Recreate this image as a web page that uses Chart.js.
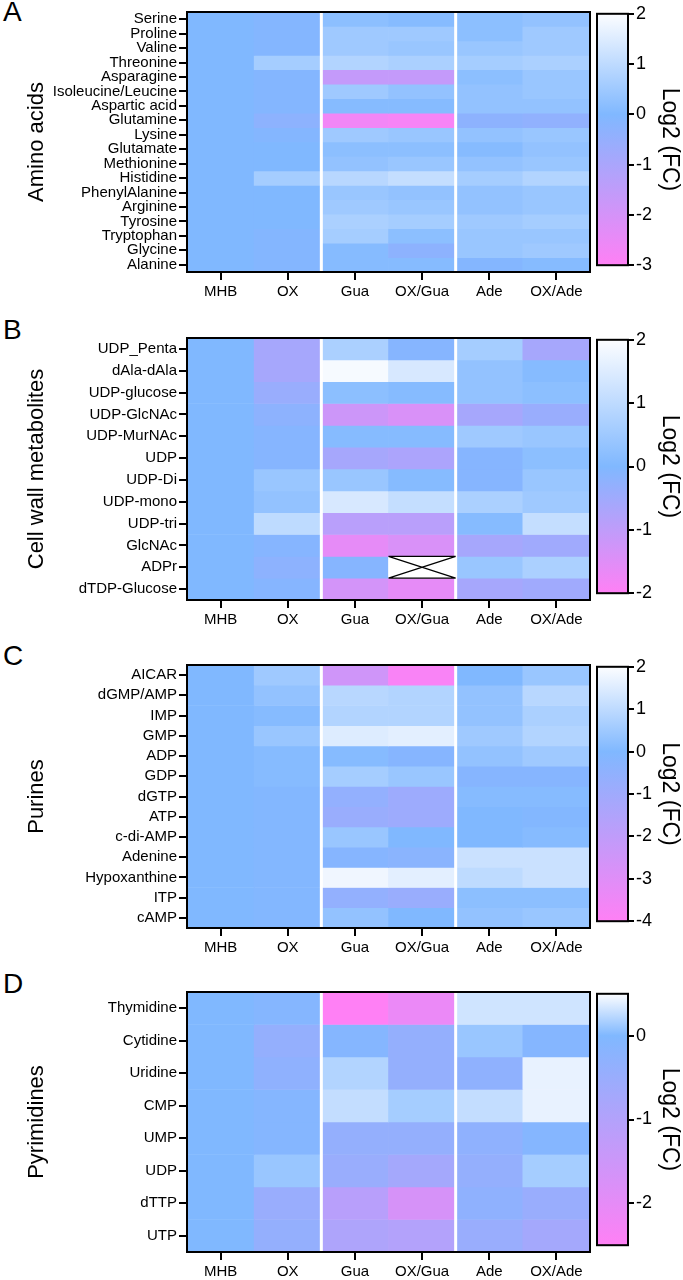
<!DOCTYPE html>
<html><head><meta charset="utf-8">
<script src="https://cdn.jsdelivr.net/npm/chart.js@4.4.1/dist/chart.umd.min.js"></script>
<style>
body{margin:0;background:#fff;width:683px;height:1280px;position:relative;overflow:hidden;font-family:"Liberation Sans",Arial,sans-serif}
canvas{position:absolute}
.lt{position:absolute;font-size:28px;left:3px}
</style></head><body>
<div class="lt" style="top:-4px">A</div>
<div class="lt" style="top:314px">B</div>
<div class="lt" style="top:640px">C</div>
<div class="lt" style="top:968px">D</div>
<canvas id="hA"></canvas><canvas id="cA"></canvas>
<canvas id="hB"></canvas><canvas id="cB"></canvas>
<canvas id="hC"></canvas><canvas id="cC"></canvas>
<canvas id="hD"></canvas><canvas id="cD"></canvas>
<script>
const columns = ["MHB","OX","Gua","OX/Gua","Ade","OX/Ade"];

const rowsA = ["Serine","Proline","Valine","Threonine","Asparagine","Isoleucine/Leucine","Aspartic acid","Glutamine","Lysine","Glutamate","Methionine","Histidine","PhenylAlanine","Arginine","Tyrosine","Tryptophan","Glycine","Alanine"];
const valuesA = [
[0,-0.1,0.2,0.1,0.2,0.3],[0,-0.1,0.5,0.5,0.2,0.5],[0,-0.1,0.5,0.4,0.4,0.5],[0,0.6,0.8,0.7,0.6,0.7],
[0,-0.1,-1.6,-1.6,0.2,0.4],[0,-0.1,0.5,0.3,0.3,0.4],[0,-0.1,0.1,0.1,0.3,0.3],[0,-0.3,-2.7,-2.8,-0.3,-0.4],
[0,-0.1,0.5,0.4,0.3,0.4],[0,0,0.2,0.2,0.1,0.3],[0,0,0.3,0.4,0.3,0.4],[0,0.6,0.9,1.1,0.6,0.8],
[0,0,0.4,0.3,0.3,0.4],[0,0,0.5,0.4,0.3,0.4],[0,0,0.7,0.6,0.5,0.6],[0,-0.1,0.6,0.2,0.4,0.4],
[0,-0.1,0.1,-0.3,0.4,0.5],[0,-0.1,0.1,0.1,-0.1,0.1]];
const ticksA = [2,1,0,-1,-2,-3];

const rowsB = ["UDP_Penta","dAla-dAla","UDP-glucose","UDP-GlcNAc","UDP-MurNAc","UDP","UDP-Di","UDP-mono","UDP-tri","GlcNAc","ADPr","dTDP-Glucose"];
const valuesB = [
[0,-0.6,0.7,-0.1,0.6,-0.6],[0,-0.6,1.9,1.4,0.3,0.1],[0,-0.4,0.2,0.1,0.3,0.2],[0,-0.2,-1.2,-1.4,-0.6,-0.4],
[0,-0.1,0.1,0.1,0.5,0.4],[0,-0.1,-0.6,-0.7,-0.1,0.2],[0,0.4,0.4,0.1,-0.1,0.4],[0,0.3,1.4,1.1,0.7,0.5],
[0,1.0,-0.9,-0.9,0.1,1.1],[0,-0.1,-1.6,-1.4,-0.6,-0.5],[0,-0.2,-0.1,null,0.4,0.7],[0,-0.1,-1.3,-1.6,-0.6,-0.5]];
const ticksB = [2,1,0,-1,-2];

const rowsC = ["AICAR","dGMP/AMP","IMP","GMP","ADP","GDP","dGTP","ATP","c-di-AMP","Adenine","Hypoxanthine","ITP","cAMP"];
const valuesC = [
[0,0.5,-2.5,-3.8,0,0.4],[0,0.3,0.9,0.8,0.3,0.9],[0,0.1,0.8,0.8,0.3,0.7],[0,0.4,1.5,1.6,0.5,0.8],
[0,0.1,0.1,-0.2,0.3,0.5],[0,0.1,0.6,0.4,-0.2,-0.2],[0,-0.1,-0.6,-0.9,0.1,0.1],[0,-0.1,-0.8,-0.9,0,-0.1],
[0,-0.1,0.4,0,0,0.1],[0,-0.1,-0.2,-0.3,1.2,1.2],[0,-0.1,1.8,1.6,1.0,1.2],[0,-0.1,-0.6,-0.8,0.2,0.2],
[0,-0.1,0.3,0,0.3,0.4]];
const ticksC = [2,1,0,-1,-2,-3,-4];

const rowsD = ["Thymidine","Cytidine","Uridine","CMP","UMP","UDP","dTTP","UTP"];
const valuesD = [
[0,-0.1,-2.5,-2.1,0.32,0.32],[0,-0.4,-0.1,-0.4,0.1,-0.1],[0,-0.3,0.2,-0.4,-0.3,0.42],[0,-0.1,0.27,0.15,0.27,0.42],
[0,-0.1,-0.4,-0.4,-0.3,-0.1],[0,0.1,-0.5,-0.7,-0.4,0.15],[0,-0.5,-1.1,-1.7,-0.3,-0.5],[0,-0.4,-0.9,-1.0,-0.5,-0.7]];
const ticksD = [0,-1,-2];

const FONT = "'Liberation Sans',Arial,sans-serif";
const WHITE=[252,253,255], BLUE=[128,184,255], PINK=[255,128,245];
function mix(a,b,t){return `rgb(${a.map((v,i)=>Math.round(v+(b[i]-v)*t)).join(',')})`;}
function colorOf(v,min,max){
  if(v===null) return '#fff';
  if(v>=0) return mix(BLUE,WHITE,Math.min(1,v/max));
  return mix(BLUE,PINK,Math.min(1,v/min));
}

const frame = {
  id:'frame',
  afterDatasetsDraw(c,args,o){
    const ctx=c.ctx, a=c.chartArea, x=c.scales.x, y=c.scales.y;
    ctx.save();
    if(o.heat){
      const w=x.getPixelForValue(1)-x.getPixelForValue(0);
      ctx.strokeStyle='#fff';ctx.lineWidth=3;
      [2,4].forEach(i=>{const px=x.getPixelForValue(i)-w/2;ctx.beginPath();ctx.moveTo(px,a.top);ctx.lineTo(px,a.bottom);ctx.stroke();});
      if(o.cross){
        const [ci,ri]=o.cross;
        const x0=x.getPixelForValue(ci)-w/2,x1=x0+w,y0=y.getPixelForValue(ri),y1=y.getPixelForValue(ri+1);
        ctx.strokeStyle='#000';ctx.lineWidth=1.2;
        ctx.beginPath();ctx.moveTo(x0,y0);ctx.lineTo(x1,y1);ctx.moveTo(x1,y0);ctx.lineTo(x0,y1);
        ctx.moveTo(x0,y0);ctx.lineTo(x1,y0);ctx.moveTo(x0,y1);ctx.lineTo(x1,y1);ctx.stroke();
      }
    }
    ctx.strokeStyle='#000';ctx.lineWidth=2;
    ctx.strokeRect(a.left,a.top,a.right-a.left,a.bottom-a.top);
    ctx.restore();
  }
};

function heat(id,rows,vals,min,max,title,top,bottom,cross){
  const cv=document.getElementById(id);
  const H=bottom-top+38, W=600;
  cv.width=W;cv.height=H;cv.style.left='0px';cv.style.top=(top-6)+'px';cv.style.width=W+'px';cv.style.height=H+'px';
  const datasets=rows.map((r,i)=>({label:r,data:columns.map(()=>1),
    backgroundColor:vals[i].map(v=>colorOf(v,min,max)),borderWidth:0,barPercentage:1,categoryPercentage:1}));
  new Chart(cv,{type:'bar',data:{labels:columns,datasets},
    options:{responsive:false,animation:false,devicePixelRatio:1,
      layout:{padding:{top:6,right:10,left:24,bottom:0}},
      plugins:{legend:{display:false},tooltip:{enabled:false},frame:{heat:true,cross}},
      scales:{
        x:{stacked:true,grid:{display:true,drawOnChartArea:false,tickLength:8,color:'#000',lineWidth:2,offset:false},
           border:{display:false},
           ticks:{color:'#000',font:{family:FONT,size:15},padding:3},
           afterFit(s){s.height=32;}},
        y:{stacked:true,reverse:true,min:0,max:rows.length,
           grid:{display:true,drawOnChartArea:false,tickLength:8,color:'#000',lineWidth:2},
           border:{display:false},
           afterBuildTicks(s){s.ticks=rows.map((r,i)=>({value:i+0.5}));},
           ticks:{autoSkip:false,color:'#000',font:{family:FONT,size:15},padding:2,callback:(v,i)=>rows[i]},
           title:{display:true,text:title,color:'#000',font:{family:FONT,size:22},padding:0},
           afterFit(s){s.width=163;}}
      }},plugins:[frame]});
}

function bar(id,min,max,ticks,top,bottom){
  const cv=document.getElementById(id);
  const H=bottom-top+12, W=87;
  cv.width=W;cv.height=H;cv.style.left='596px';cv.style.top=(top-6)+'px';cv.style.width=W+'px';cv.style.height=H+'px';
  new Chart(cv,{type:'bar',data:{labels:[''],datasets:[{data:[[min,max]],borderWidth:0,barPercentage:1,categoryPercentage:1,
    backgroundColor(ctx){const a=ctx.chart.chartArea;if(!a)return 'rgb(128,184,255)';const g=ctx.chart.ctx.createLinearGradient(0,a.bottom,0,a.top);
      g.addColorStop(0,mix(PINK,PINK,0));g.addColorStop((0-min)/(max-min),mix(BLUE,BLUE,0));g.addColorStop(1,mix(WHITE,WHITE,0));return g;}}]},
    options:{responsive:false,animation:false,devicePixelRatio:1,
      layout:{padding:{top:6,bottom:6,left:1,right:0}},
      plugins:{legend:{display:false},tooltip:{enabled:false},frame:{heat:false}},
      scales:{x:{display:false},
        y:{position:'right',min,max,border:{display:false},
          grid:{drawOnChartArea:false,tickLength:6,color:'#000',lineWidth:2},
          afterBuildTicks(s){s.ticks=ticks.map(v=>({value:v}));},
          ticks:{color:'#000',font:{family:FONT,size:18},padding:2},
          title:{display:true,text:'Log2 (FC)',color:'#000',font:{family:FONT,size:23},padding:0},
          afterFit(s){s.width=55;}}}},plugins:[frame]});
}

heat('hA',rowsA,valuesA,-3,2,'Amino acids',7,272,null);
bar('cA',-3,2,ticksA,7,272);
heat('hB',rowsB,valuesB,-2,2,'Cell wall metabolites',333,600,[3,10]);
bar('cB',-2,2,ticksB,333,600);
heat('hC',rowsC,valuesC,-4,2,'Purines',660,928,null);
bar('cC',-4,2,ticksC,660,928);
heat('hD',rowsD,valuesD,-2.5,0.5,'Pyrimidines',987,1252,null);
bar('cD',-2.5,0.5,ticksD,987,1252);
</script></body></html>
